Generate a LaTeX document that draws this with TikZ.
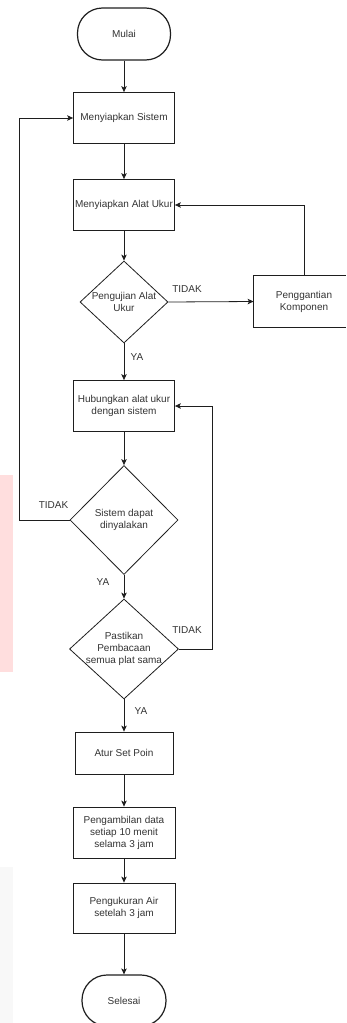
\documentclass[tikz,border=0pt]{standalone}
\usepackage{fontspec}
\setmainfont{Liberation Sans}
\usetikzlibrary{shapes.geometric,arrows.meta}
\definecolor{ln}{HTML}{1E1E1E}
\definecolor{tx}{HTML}{333333}
\definecolor{pinkbg}{HTML}{FFDEDE}
\definecolor{graybg}{HTML}{F8F8F8}
\begin{document}
\begin{tikzpicture}[x=1pt,y=-1pt,
  every node/.style={font=\fontsize{10}{12}\selectfont, text=tx, align=center},
  proc/.style={draw=ln, line width=0.8pt, minimum width=101pt, minimum height=51pt, inner sep=0pt},
  term/.style={draw=ln, line width=1.2pt, rounded corners=25pt, minimum height=52pt, inner sep=0pt},
  dec/.style={draw=ln, line width=0.8pt, diamond, inner xsep=-20pt, inner ysep=-10pt},
  arr/.style={draw=ln, line width=0.8pt, -{Stealth[length=6pt,width=5.5pt,inset=1.5pt]}},
  edge/.style={draw=ln, line width=0.8pt, line cap=butt},
  lbl/.style={inner sep=0pt}]
\useasboundingbox (0,0) rectangle (347,1023);
\fill[pinkbg] (0,475) rectangle (13,672);
\fill[graybg] (0,867) rectangle (13,1023);
\coordinate (pageR) at (345.5,0);

\node[term, minimum width=93pt] (mulai) at (124,34) {Mulai};
\node[proc] (sis) at (124,118) {Menyiapkan Sistem};
\node[proc] (alat) at (124,205) {Menyiapkan Alat Ukur};
\node[dec, minimum width=88pt, minimum height=82pt] (uji) at (124,302) {Pengujian Alat\\Ukur};
\node[proc, draw=none, minimum width=100pt] (ganti) at (304,301.5) {Penggantian\\Komponen};
\draw[edge] (ganti.north -| pageR) -- (ganti.north west) -- (ganti.south west) -- (ganti.south -| pageR);
\node[proc] (hub) at (124,406) {Hubungkan alat ukur\\dengan sistem};
\node[dec, minimum width=108pt, minimum height=109pt] (sd) at (124,520) {Sistem dapat\\dinyalakan};
\node[dec, minimum width=109pt, minimum height=100pt] (pas) at (124,649) {Pastikan\\Pembacaan\\semua plat sama};
\node[proc, minimum width=98pt, minimum height=42pt] (atur) at (124,753) {Atur Set Poin};
\node[proc, minimum width=102pt] (ambil) at (124,832.5) {Pengambilan data\\setiap 10 menit\\selama 3 jam};
\node[proc, minimum width=102pt, minimum height=50pt] (ukur) at (124,908) {Pengukuran Air\\setelah 3 jam};
\node[term, minimum width=84pt, minimum height=51pt] (selesai) at (124,1000.5) {Selesai};

\coordinate (lx) at (19,520);
\coordinate (rx) at (212,649);

\draw[arr] (mulai.south) -- (sis.north);
\draw[arr] (sis.south) -- (alat.north);
\draw[arr] (alat.south) -- (uji.north);
\draw[arr] (uji.east) -- (ganti.west);
\draw[arr] (ganti.north) |- (alat.east);
\draw[arr] (uji.south) -- (hub.north);
\draw[arr] (hub.south) -- (sd.north);
\draw[arr] (sd.west) -- (lx) |- (sis.west);
\draw[arr] (sd.south) -- (pas.north);
\draw[arr] (pas.east) -- (rx) |- (hub.east);
\draw[arr] (pas.south) -- (atur.north);
\draw[arr] (atur.south) -- (ambil.north);
\draw[arr] (ambil.south) -- (ukur.north);
\draw[arr] (ukur.south) -- (selesai.north);

\node[lbl] (t1) at (187,289) {TIDAK};
\node[lbl] (y1) at (137,357) {YA};
\node[lbl] (t2) at (53.5,505) {TIDAK};
\node[lbl] (y2) at (103,582) {YA};
\node[lbl] (t3) at (187,630) {TIDAK};
\node[lbl] (y3) at (141,711) {YA};
\end{tikzpicture}
\end{document}
